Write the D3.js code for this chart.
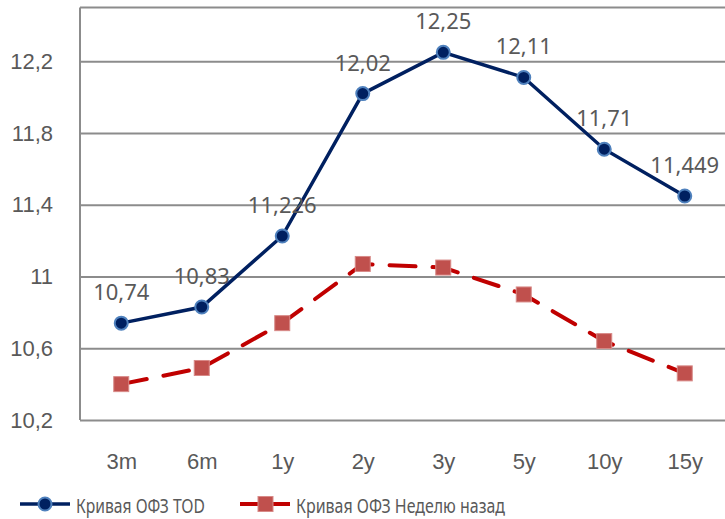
<!DOCTYPE html>
<html>
<head>
<meta charset="utf-8">
<script src="https://cdn.jsdelivr.net/npm/d3@7"></script>
<style>
    body { margin: 0; background: #fff; }
    svg { display: block; font-family: "Noto Sans", sans-serif; }
</style>
</head>
<body>
<svg id="chart" width="725" height="519"></svg>
<script>
const categories = ['3m', '6m', '1y', '2y', '3y', '5y', '10y', '15y'];
const todValues = [10.74, 10.83, 11.226, 12.02, 12.25, 12.11, 11.71, 11.449];
const weekAgoValues = [10.40, 10.49, 10.74, 11.07, 11.05, 10.90, 10.64, 10.46];
const yTicks = [10.2, 10.6, 11, 11.4, 11.8, 12.2];
const seriesNames = ['Кривая ОФЗ TOD', 'Кривая ОФЗ Неделю назад'];

const textColor = '#595959';
const gridColor = '#8c8c8c';
const navy = '#002060';
const red = '#c00000';

const svg = d3.select('#chart');
const ru = d3.formatLocale({ decimal: ',', thousands: ' ', grouping: [3], currency: ['', ''] });
const fmt = ru.format('~g');

const x = d3.scalePoint().domain(categories).range([81, 725]).padding(0.5);
const y = d3.scaleLinear().domain([10.2, 12.5]).range([420, 7.5]);

// gridlines + y labels
const yAxis = svg.append('g')
    .attr('transform', 'translate(80,0)')
    .call(d3.axisLeft(y).tickValues(yTicks).tickFormat(fmt).tickSizeInner(-645).tickSizeOuter(0).tickPadding(27));
yAxis.select('.domain').remove();
yAxis.selectAll('.tick line').attr('stroke', gridColor).attr('stroke-width', 2);
yAxis.selectAll('.tick text').attr('fill', textColor).style('font-size', '22px').attr('font-family', null);

// plot frame: left and top
svg.append('line').attr('x1', 80).attr('x2', 80).attr('y1', y(12.5)).attr('y2', y(10.2))
    .attr('stroke', gridColor).attr('stroke-width', 2);
svg.append('line').attr('x1', 80).attr('x2', 725).attr('y1', y(12.5)).attr('y2', y(12.5))
    .attr('stroke', gridColor).attr('stroke-width', 2);

// x labels
const xAxis = svg.append('g')
    .attr('transform', 'translate(0,420)')
    .call(d3.axisBottom(x).tickSize(0).tickPadding(33));
xAxis.select('.domain').remove();
xAxis.selectAll('.tick text').attr('fill', textColor).style('font-size', '22px').attr('font-family', null);

const line = d3.line().x((d, i) => x(categories[i])).y(d => y(d));

// week ago series (dashed red, squares)
svg.append('path').datum(weekAgoValues)
    .attr('d', line)
    .attr('fill', 'none')
    .attr('stroke', red)
    .attr('stroke-width', 4)
    .attr('stroke-linecap', 'round')
    .attr('stroke-dasharray', '26,17');

svg.append('g').selectAll('rect').data(weekAgoValues).enter().append('rect')
    .attr('x', (d, i) => x(categories[i]) - 7.5)
    .attr('y', d => y(d) - 7.5)
    .attr('width', 15)
    .attr('height', 15)
    .attr('fill', '#c0504d')
    .attr('stroke', '#d88a88')
    .attr('stroke-width', 1);

// TOD series (solid navy, circles)
svg.append('path').datum(todValues)
    .attr('d', line)
    .attr('fill', 'none')
    .attr('stroke', navy)
    .attr('stroke-width', 3.5);

svg.append('g').selectAll('circle').data(todValues).enter().append('circle')
    .attr('cx', (d, i) => x(categories[i]))
    .attr('cy', d => y(d))
    .attr('r', 6.5)
    .attr('fill', navy)
    .attr('stroke', '#4f81bd')
    .attr('stroke-width', 2);

svg.append('g').selectAll('text').data(todValues).enter().append('text')
    .attr('x', (d, i) => x(categories[i]))
    .attr('y', d => y(d) - 23)
    .attr('text-anchor', 'middle')
    .attr('fill', textColor)
    .style('font-size', '22px')
    .text(d => fmt(d));

// legend
const legend = svg.append('g').attr('transform', 'translate(0,504)');

legend.append('line').attr('x1', 20).attr('x2', 70).attr('stroke', navy).attr('stroke-width', 3.5);
legend.append('circle').attr('cx', 45).attr('r', 6.5).attr('fill', navy).attr('stroke', '#4f81bd').attr('stroke-width', 2);
legend.append('text').attr('x', 76).attr('y', 9).attr('fill', textColor).style('font-size', '20px')
    .attr('textLength', 129).attr('lengthAdjust', 'spacingAndGlyphs')
    .text(seriesNames[0]);

legend.append('line').attr('x1', 240).attr('x2', 290).attr('stroke', red).attr('stroke-width', 4);
legend.append('rect').attr('x', 258).attr('y', -7.5).attr('width', 15).attr('height', 15)
    .attr('fill', '#c0504d').attr('stroke', '#d88a88').attr('stroke-width', 1);
legend.append('text').attr('x', 296).attr('y', 9).attr('fill', textColor).style('font-size', '20px')
    .attr('textLength', 209).attr('lengthAdjust', 'spacingAndGlyphs')
    .text(seriesNames[1]);
</script>
</body>
</html>
